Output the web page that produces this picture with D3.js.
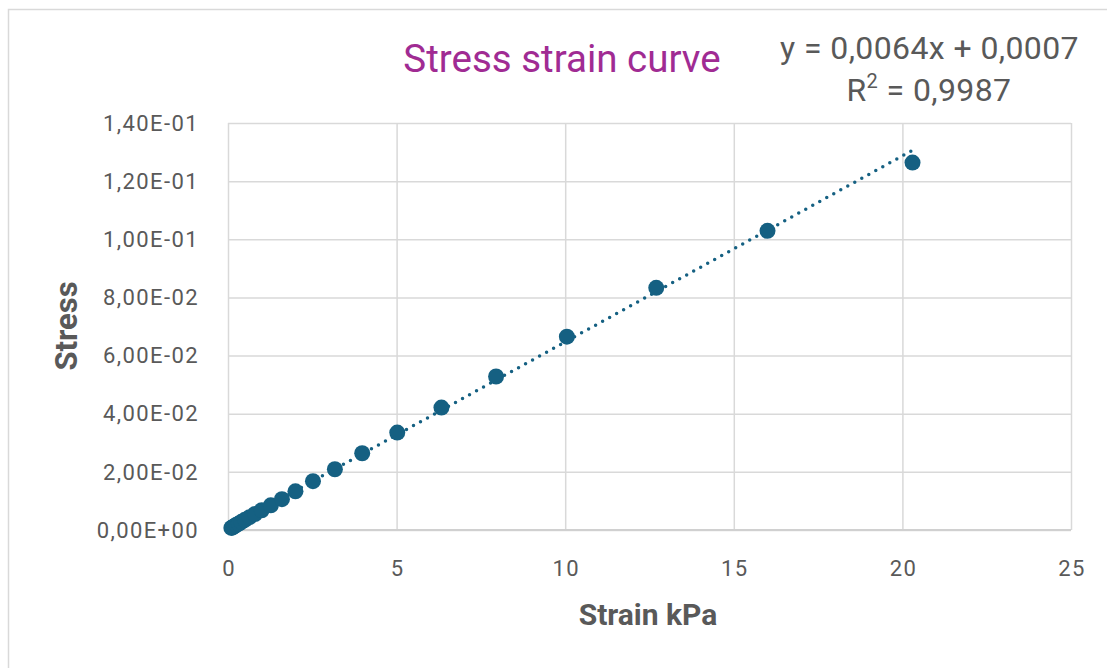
<!DOCTYPE html>
<html>
<head>
<meta charset="utf-8">
<script src="https://cdn.jsdelivr.net/npm/d3@7"></script>
<style>
  body { margin: 0; background: #fff; }
  text { font-family: Roboto, "Liberation Sans", sans-serif; fill: #595959; }
  .grid line { stroke: #d9d9d9; stroke-width: 1.5; }
  .grid path { display: none; }
  .tick-label { font-size: 22px; letter-spacing: 1.4px; }
</style>
</head>
<body>
<div class="chart"></div>
<script>
// Stress strain scatter with linear trendline
var svgWidth = 1107;
var svgHeight = 668;

var margin = { top: 123, right: 36, bottom: 138, left: 228 };
var width = svgWidth - margin.left - margin.right;
var height = svgHeight - margin.top - margin.bottom;

// data
var strain = [0.1, 0.13, 0.16, 0.2, 0.25, 0.32, 0.4, 0.5, 0.64, 0.8, 1.0, 1.27, 1.6, 2.0,
  2.52, 3.17, 3.98, 5.02, 6.33, 7.95, 10.05, 12.7, 16.0, 20.3];
var stress = [0.0007, 0.0009, 0.0011, 0.0014, 0.0018, 0.0022, 0.0028, 0.0035, 0.0044, 0.0055,
  0.0068, 0.0085, 0.0106, 0.0133, 0.0168, 0.0209, 0.0264, 0.0335, 0.0421, 0.0528, 0.0665,
  0.0833, 0.1029, 0.1264];
var xTicks = [0, 5, 10, 15, 20, 25];
var yTicks = [0, 0.02, 0.04, 0.06, 0.08, 0.10, 0.12, 0.14];
var yTickLabels = ["0,00E+00", "2,00E-02", "4,00E-02", "6,00E-02", "8,00E-02", "1,00E-01", "1,20E-01", "1,40E-01"];
var slope = 0.0064;
var intercept = 0.0007;

var data = strain.map((s, i) => ({ x: s, y: stress[i] }));

var svg = d3.select(".chart")
  .append("svg")
  .attr("width", svgWidth)
  .attr("height", svgHeight);

// chart frame
svg.append("rect")
  .attr("x", 8.5).attr("y", 9.5)
  .attr("width", svgWidth).attr("height", svgHeight)
  .attr("fill", "none").attr("stroke", "#d9d9d9").attr("stroke-width", 1.5);

var chartGroup = svg.append("g")
  .attr("transform", `translate(${margin.left}, ${margin.top})`);

var xScale = d3.scaleLinear().domain([0, 25]).range([0, width]);
var yScale = d3.scaleLinear().domain([0, 0.14]).range([height, 0]);

// gridlines
chartGroup.append("g")
  .attr("class", "grid")
  .call(d3.axisLeft(yScale).tickValues(yTicks).tickSize(-width).tickFormat(""));

chartGroup.append("g")
  .attr("class", "grid")
  .attr("transform", `translate(0, ${height})`)
  .call(d3.axisBottom(xScale).tickValues(xTicks).tickSize(-height).tickFormat(""));

// bottom axis line
chartGroup.append("line")
  .attr("x1", 0).attr("x2", width)
  .attr("y1", height).attr("y2", height)
  .attr("stroke", "#d0d0d0").attr("stroke-width", 2);

// tick labels
chartGroup.append("g")
  .selectAll("text")
  .data(yTicks)
  .enter()
  .append("text")
  .attr("class", "tick-label")
  .attr("x", -29)
  .attr("y", d => yScale(d))
  .attr("dy", "0.35em")
  .attr("text-anchor", "end")
  .text((d, i) => yTickLabels[i]);

chartGroup.append("g")
  .selectAll("text")
  .data(xTicks)
  .enter()
  .append("text")
  .attr("class", "tick-label")
  .attr("x", d => xScale(d) + 1)
  .attr("y", height + 38)
  .attr("dy", "0.35em")
  .attr("text-anchor", "middle")
  .text(d => d);

// trendline
var xExt = d3.extent(strain);
chartGroup.append("line")
  .attr("x1", xScale(xExt[0])).attr("y1", yScale(slope * xExt[0] + intercept))
  .attr("x2", xScale(xExt[1])).attr("y2", yScale(slope * xExt[1] + intercept))
  .attr("stroke", "#156082")
  .attr("stroke-width", 3.5)
  .attr("stroke-linecap", "round")
  .attr("stroke-dasharray", "0,8");

// points
chartGroup.selectAll("circle")
  .data(data)
  .enter()
  .append("circle")
  .attr("cx", d => xScale(d.x))
  .attr("cy", d => yScale(d.y))
  .attr("r", 8)
  .attr("fill", "#156082");

// titles
svg.append("text")
  .attr("x", 562).attr("y", 72)
  .attr("text-anchor", "middle")
  .style("font-size", "38.5px")
  .style("fill", "#a02b93")
  .text("Stress strain curve");

svg.append("text")
  .attr("x", 1079).attr("y", 59)
  .attr("text-anchor", "end")
  .style("font-size", "32px")
  .style("letter-spacing", "0.4px")
  .text("y = 0,0064x + 0,0007");

var r2 = svg.append("text")
  .attr("x", 929).attr("y", 101)
  .attr("text-anchor", "middle")
  .style("font-size", "32px")
  .style("letter-spacing", "0.4px");
r2.append("tspan").text("R");
r2.append("tspan").attr("dy", -13).style("font-size", "20px").text("2");
r2.append("tspan").attr("dy", 13).text(" = 0,9987");

chartGroup.append("text")
  .attr("x", 648 - margin.left)
  .attr("y", 625 - margin.top)
  .attr("text-anchor", "middle")
  .style("font-size", "30px")
  .style("font-weight", "bold")
  .text("Strain kPa");

chartGroup.append("text")
  .attr("transform", "rotate(-90)")
  .attr("x", 0 - (326 - margin.top))
  .attr("y", 0 - margin.left + 77)
  .attr("text-anchor", "middle")
  .style("font-size", "31px")
  .style("font-weight", "bold")
  .text("Stress");
</script>
</body>
</html>
